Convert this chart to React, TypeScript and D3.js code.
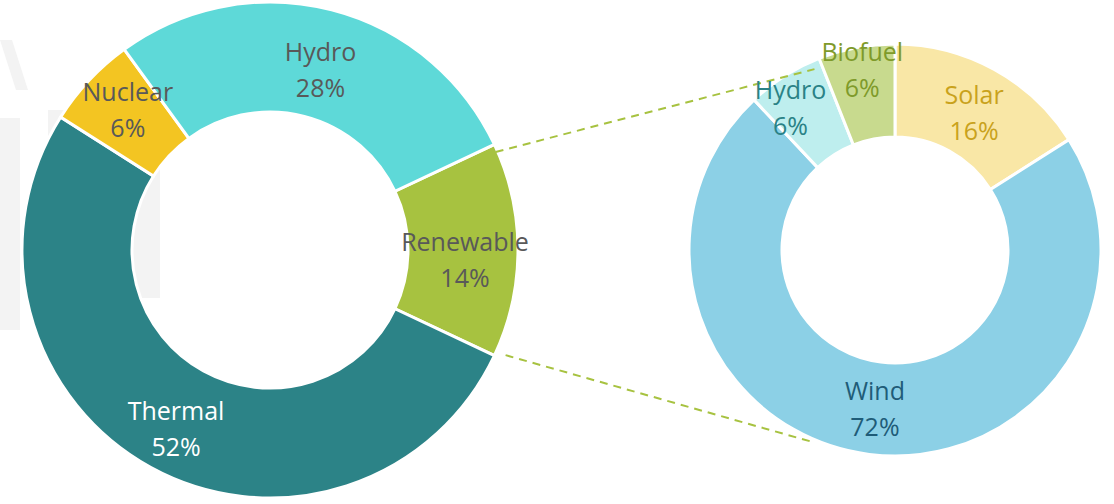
import React, { useEffect, useRef } from 'react';
import * as d3 from 'd3';

// main mix (left donut), clockwise starting from Renewable
const mainLabels = ['Renewable', 'Thermal', 'Nuclear', 'Hydro'];
const mainValues = [14, 52, 6, 28];
const mainColors = ['#A7C240', '#2C8387', '#F3C522', '#5ED9D8'];
const mainTextColors = ['#595959', '#FFFFFF', '#595959', '#595959'];

// renewable breakdown (right donut), clockwise from 12 o'clock
const renLabels = ['Solar', 'Wind', 'Hydro', 'Biofuel'];
const renValues = [16, 72, 6, 6];
const renColors = ['#F9E7A6', '#8CD0E6', '#BEEEEE', '#C8DA8E'];
const renTextColors = ['#C9A21C', '#1F5C78', '#2A8286', '#7F9A2A'];

interface Slice {
    label: string;
    value: number;
    color: string;
    textColor: string;
}

type Donut = { cx: number; cy: number; outer: number; inner: number };

const App: React.FC = () => {
    const ref = useRef<SVGSVGElement | null>(null);

    useEffect(() => {
        if (!ref.current) return;
        const svg = d3.select(ref.current);
        svg.selectAll('*').remove();

        const font = "'Open Sans', 'Noto Sans', sans-serif";

        // faint watermark in the background
        const wm = svg.append('g').attr('fill', '#f3f3f3');
        wm.append('path').attr('d', 'M0,40 L12,40 L28,90 L16,90 Z');
        wm.append('rect').attr('x', 0).attr('y', 118).attr('width', 20).attr('height', 212);
        wm.append('rect').attr('x', 48).attr('y', 110).attr('width', 16).attr('height', 215);
        wm.append('rect').attr('x', 132).attr('y', 110).attr('width', 28).attr('height', 188);

        const pie = d3.pie<Slice>().sort(null).value(d => d.value);

        // left donut
        const left: Donut = { cx: 270, cy: 250, outer: 248, inner: 138 };
        const mainData: Slice[] = mainLabels.map((label, i) => ({
            label, value: mainValues[i], color: mainColors[i], textColor: mainTextColors[i],
        }));
        // renewable slice centred on 3 o'clock
        const renAngle = (mainValues[0] / d3.sum(mainValues)) * Math.PI * 2;
        const startLeft = Math.PI / 2 - renAngle / 2;
        const mainArcs = pie.startAngle(startLeft).endAngle(startLeft + Math.PI * 2)(mainData);

        // right donut
        const right: Donut = { cx: 895, cy: 250, outer: 206, inner: 113 };
        const renData: Slice[] = renLabels.map((label, i) => ({
            label, value: renValues[i], color: renColors[i], textColor: renTextColors[i],
        }));
        const renArcs = pie.startAngle(0).endAngle(Math.PI * 2)(renData);

        const polar = (c: Donut, a: number, r: number) =>
            [c.cx + r * Math.sin(a), c.cy - r * Math.cos(a)] as [number, number];

        const drawDonut = (arcs: d3.PieArcDatum<Slice>[], c: Donut) => {
            const arc = d3.arc<d3.PieArcDatum<Slice>>().innerRadius(c.inner).outerRadius(c.outer);
            const g = svg.append('g').attr('transform', `translate(${c.cx},${c.cy})`);
            g.selectAll('path')
                .data(arcs)
                .join('path')
                .attr('d', arc)
                .attr('fill', d => d.data.color)
                .attr('stroke', '#fff')
                .attr('stroke-width', 3);
        };

        drawDonut(mainArcs, left);
        drawDonut(renArcs, right);

        // dashed connectors from the renewable slice to the breakdown
        const renArc = mainArcs[0];
        const connectors = [
            [polar(left, renArc.startAngle + 0.03, left.outer - 2), polar(right, (336 * Math.PI) / 180, 198)],
            [polar(left, renArc.endAngle - 0.02, left.outer + 10), polar(right, (203.4 * Math.PI) / 180, 209)],
        ];
        connectors.forEach(([a, b]) => {
            svg.append('line')
                .attr('x1', a[0]).attr('y1', a[1])
                .attr('x2', b[0]).attr('y2', b[1])
                .attr('stroke', '#A7C240')
                .attr('stroke-width', 2)
                .attr('stroke-dasharray', '8,6');
        });

        // labels (label offsets nudge to match the best-fit placement)
        const drawLabels = (
            arcs: d3.PieArcDatum<Slice>[],
            c: Donut,
            radius: (d: d3.PieArcDatum<Slice>) => number,
            nudge: Record<string, [number, number]>,
        ) => {
            arcs.forEach(d => {
                const mid = (d.startAngle + d.endAngle) / 2;
                const [x0, y0] = polar(c, mid, radius(d));
                const [dx, dy] = nudge[d.data.label] || [0, 0];
                const t = svg.append('text')
                    .attr('text-anchor', 'middle')
                    .attr('font-family', font)
                    .attr('font-size', 25)
                    .attr('fill', d.data.textColor);
                t.append('tspan').attr('x', x0 + dx).attr('y', y0 + dy - 9).text(d.data.label);
                t.append('tspan').attr('x', x0 + dx).attr('y', y0 + dy + 27).text(`${d.data.value}%`);
            });
        };

        drawLabels(mainArcs, left, () => 195, {
            Hydro: [2, 9],
            Nuclear: [0, -7],
            Renewable: [0, 10],
            Thermal: [0, 8],
        });
        drawLabels(renArcs, right, d => (d.data.value < 10 ? 180 : 160), {
            Solar: [2, 3],
            Biofuel: [1, -3],
            Hydro: [-8, 10],
        });
    }, []);

    return (
        <svg
            ref={ref}
            width={1114}
            height={504}
            style={{ position: 'absolute', left: 0, top: 0, background: '#fff' }}
        />
    );
};

export default App;
